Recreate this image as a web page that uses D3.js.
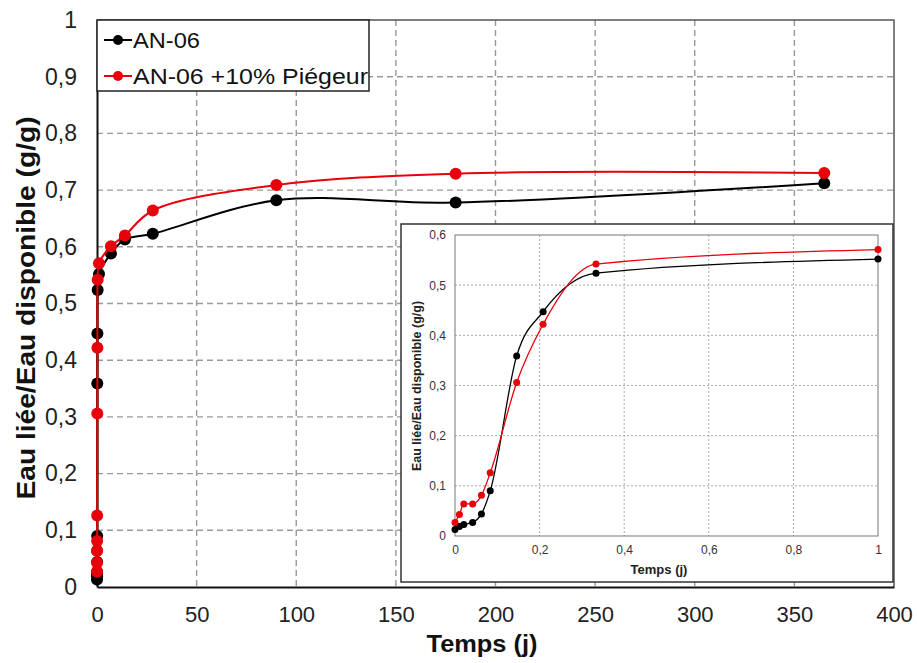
<!DOCTYPE html>
<html><head><meta charset="utf-8">
<script src="https://cdn.jsdelivr.net/npm/d3@7"></script>
<style>body{margin:0;background:#fff;} svg{display:block;font-family:"Liberation Sans",Arial,sans-serif;}</style>
</head><body>
<svg id="c" width="917" height="663"></svg>
<script>
const times = [0, 0.0104, 0.0208, 0.0417, 0.0625, 0.0833, 0.1458, 0.2083, 0.3333, 1, 7, 14, 28, 90, 180, 365];
const an06 = [0.013, 0.019, 0.023, 0.027, 0.044, 0.090, 0.359, 0.447, 0.524, 0.552, 0.588, 0.613, 0.623, 0.682, 0.678, 0.712];
const an06p = [0.027, 0.043, 0.064, 0.064, 0.081, 0.126, 0.306, 0.422, 0.542, 0.571, 0.601, 0.620, 0.664, 0.709, 0.729, 0.730];
const seriesNames = ["AN-06", "AN-06 +10% Piégeur"];
const seriesColors = ["#000000", "#e8000b"];
const mainXTicks = [0, 50, 100, 150, 200, 250, 300, 350, 400];
const mainYTicks = [0, 0.1, 0.2, 0.3, 0.4, 0.5, 0.6, 0.7, 0.8, 0.9, 1];
const insetXTicks = [0, 0.2, 0.4, 0.6, 0.8, 1];
const insetYTicks = [0, 0.1, 0.2, 0.3, 0.4, 0.5, 0.6];
const fmt = d => String(+d.toFixed(2)).replace(".", ",");

const series = [an06, an06p].map((vals, i) => ({
  name: seriesNames[i], color: seriesColors[i],
  pts: times.map((t, j) => ({t, v: vals[j]}))
}));

const svg = d3.select("#c");

// ---------- main chart ----------
const M = {l: 97, r: 894, t: 20, b: 587};
const x = d3.scaleLinear().domain([0, 400]).range([M.l, M.r]);
const y = d3.scaleLinear().domain([0, 1]).range([M.b, M.t]);

const g = svg.append("g");
g.selectAll(".hg").data(mainYTicks.filter(d => d > 0 && d < 1)).enter().append("line")
  .attr("x1", M.l).attr("x2", M.r).attr("y1", d => y(d)).attr("y2", d => y(d))
  .attr("stroke", "#999").attr("stroke-width", 1.4).attr("stroke-dasharray", "6,4");
g.selectAll(".vg").data(mainXTicks.filter(d => d > 0 && d < 400)).enter().append("line")
  .attr("y1", M.t).attr("y2", M.b).attr("x1", d => x(d)).attr("x2", d => x(d))
  .attr("stroke", "#999").attr("stroke-width", 1.4).attr("stroke-dasharray", "6,4");
g.append("path").attr("d", `M${M.l},${M.t}H${M.r}V${M.b}`).attr("fill", "none")
  .attr("stroke", "#555").attr("stroke-width", 1.5);

const xAxis = d3.axisBottom(x).tickValues(mainXTicks).tickSize(0).tickPadding(19).tickFormat(d => d);
const yAxis = d3.axisLeft(y).tickValues(mainYTicks).tickSize(0).tickPadding(20).tickFormat(fmt);
const gx = g.append("g").attr("transform", `translate(0,${M.b})`).call(xAxis);
const gy = g.append("g").attr("transform", `translate(${M.l},0)`).call(yAxis);
[gx, gy].forEach(a => {
  a.select(".domain").attr("stroke", "#111").attr("stroke-width", 2);
  a.selectAll("text").attr("fill", "#222").attr("font-family", "Liberation Sans, Arial, sans-serif");
});
gx.selectAll("text").attr("font-size", 22);
gy.selectAll("text").attr("font-size", 23);

svg.append("text").attr("x", 482).attr("y", 652).attr("text-anchor", "middle")
  .attr("font-size", 24).attr("font-weight", "bold").attr("fill", "#111")
  .attr("textLength", 111).attr("lengthAdjust", "spacingAndGlyphs").text("Temps (j)");
svg.append("text").attr("transform", "translate(35,308) rotate(-90)").attr("text-anchor", "middle")
  .attr("font-size", 25).attr("font-weight", "bold").attr("fill", "#111")
  .attr("textLength", 383).attr("lengthAdjust", "spacingAndGlyphs").text("Eau liée/Eau disponible (g/g)");

const line = d3.line().x(d => x(d.t)).y(d => y(d.v)).curve(d3.curveCatmullRom.alpha(0.5));
series.forEach(s => {
  g.append("path").datum(s.pts).attr("d", line).attr("fill", "none")
    .attr("stroke", s.color).attr("stroke-width", 2);
  g.selectAll(null).data(s.pts).enter().append("circle")
    .attr("cx", d => x(d.t)).attr("cy", d => y(d.v)).attr("r", 6).attr("fill", s.color);
});

// legend
const legendW = [67, 235];
const lg = svg.append("g");
lg.append("rect").attr("x", M.l).attr("y", M.t).attr("width", 272).attr("height", 71)
  .attr("fill", "#fff").attr("stroke", "#222").attr("stroke-width", 1.5);
series.forEach((s, i) => {
  const yy = 40 + i * 36;
  lg.append("line").attr("x1", 104).attr("x2", 132).attr("y1", yy).attr("y2", yy)
    .attr("stroke", s.color).attr("stroke-width", 2);
  lg.append("circle").attr("cx", 118).attr("cy", yy).attr("r", 5).attr("fill", s.color);
  lg.append("text").attr("x", 133).attr("y", yy + 8).attr("font-size", 22).attr("fill", "#111")
    .attr("textLength", legendW[i]).attr("lengthAdjust", "spacingAndGlyphs").text(s.name);
});

// ---------- inset ----------
const ig = svg.append("g");
ig.append("rect").attr("x", 401).attr("y", 224).attr("width", 492).attr("height", 358)
  .attr("fill", "#fff").attr("stroke", "#333").attr("stroke-width", 1.5);
const I = {l: 455, r: 878, t: 235, b: 536};
const xi = d3.scaleLinear().domain([0, 1]).range([I.l, I.r]);
const yi = d3.scaleLinear().domain([0, 0.6]).range([I.b, I.t]);
ig.selectAll(".ihg").data(insetYTicks.filter(d => d > 0 && d < 0.6)).enter().append("line")
  .attr("x1", I.l).attr("x2", I.r).attr("y1", d => yi(d)).attr("y2", d => yi(d))
  .attr("stroke", "#aaa").attr("stroke-width", 1).attr("stroke-dasharray", "2,2");
ig.selectAll(".ivg").data(insetXTicks.filter(d => d > 0 && d < 1)).enter().append("line")
  .attr("y1", I.t).attr("y2", I.b).attr("x1", d => xi(d)).attr("x2", d => xi(d))
  .attr("stroke", "#aaa").attr("stroke-width", 1).attr("stroke-dasharray", "2,2");
ig.append("rect").attr("x", I.l).attr("y", I.t).attr("width", I.r - I.l).attr("height", I.b - I.t)
  .attr("fill", "none").attr("stroke", "#777").attr("stroke-width", 1);
const ixa = ig.append("g").attr("transform", `translate(0,${I.b})`)
  .call(d3.axisBottom(xi).tickValues(insetXTicks).tickSize(0).tickPadding(9).tickFormat(fmt));
const iya = ig.append("g").attr("transform", `translate(${I.l},0)`)
  .call(d3.axisLeft(yi).tickValues(insetYTicks).tickSize(0).tickPadding(9).tickFormat(fmt));
[ixa, iya].forEach(a => {
  a.select(".domain").remove();
  a.selectAll("text").attr("font-size", 12).attr("fill", "#333").attr("font-family", "Liberation Sans, Arial, sans-serif");
});
ig.append("text").attr("x", 659).attr("y", 574).attr("text-anchor", "middle")
  .attr("font-size", 13).attr("font-weight", "bold").attr("fill", "#222").text("Temps (j)");
ig.append("text").attr("transform", `translate(421,386) rotate(-90)`).attr("text-anchor", "middle")
  .attr("font-size", 12.5).attr("font-weight", "bold").attr("fill", "#222").text("Eau liée/Eau disponible (g/g)");

const iline = d3.line().x(d => xi(d.t)).y(d => yi(d.v)).curve(d3.curveMonotoneX);
series.forEach(s => {
  const pts = s.pts.filter(d => d.t <= 1);
  ig.append("path").datum(pts).attr("d", iline).attr("fill", "none")
    .attr("stroke", s.color).attr("stroke-width", 1.3);
  ig.selectAll(null).data(pts).enter().append("circle")
    .attr("cx", d => xi(d.t)).attr("cy", d => yi(d.v)).attr("r", 3.5).attr("fill", s.color);
});
</script>
</body></html>
